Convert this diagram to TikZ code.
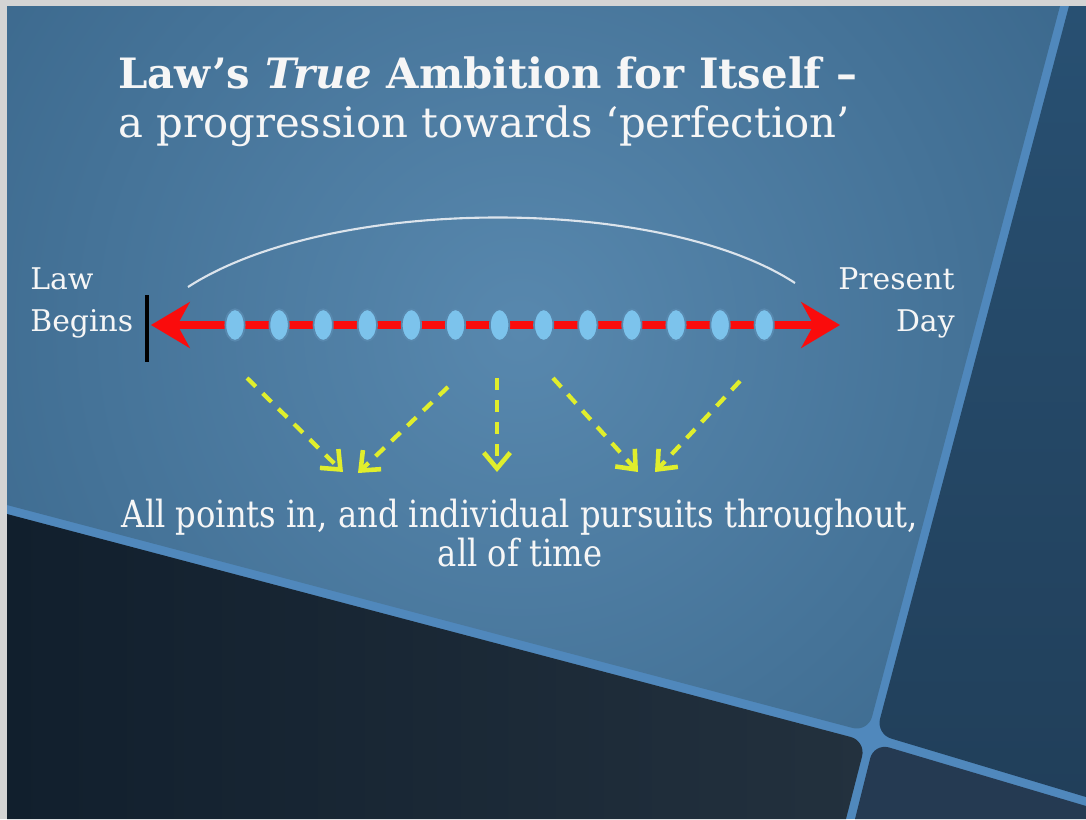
\documentclass[tikz,border=0pt]{standalone}
\usepackage{fontspec}
\setmainfont{DejaVu Serif}
\newfontfamily\condserif[FakeStretch=0.86]{DejaVu Serif}
\usetikzlibrary{arrows.meta,positioning,shapes.geometric}
\definecolor{slideframe}{RGB}{212,212,212}
\definecolor{seamblue}{RGB}{80,136,188}
\definecolor{paneedge}{RGB}{31,73,108}
\definecolor{panecentre}{RGB}{88,136,174}
\definecolor{darkpaneleft}{RGB}{17,31,45}
\definecolor{darkpaneright}{RGB}{35,49,62}
\definecolor{sidepanetop}{RGB}{40,80,114}
\definecolor{sidepanebottom}{RGB}{33,63,90}
\definecolor{cornerpane}{RGB}{37,58,82}
\definecolor{timered}{RGB}{250,12,12}
\definecolor{momentblue}{RGB}{124,195,236}
\definecolor{pursuityellow}{RGB}{224,238,44}
\definecolor{slidetext}{RGB}{246,246,246}
\definecolor{arcwhite}{RGB}{220,228,236}

\tikzset{
  titleline/.style={anchor=base west, inner sep=0pt, text=slidetext,
                    font=\fontsize{23.8}{28}\selectfont},
  endlabel/.style={inner sep=0pt, text=slidetext, font=\fontsize{17}{24}\selectfont},
  moment/.style={ellipse, fill=momentblue, draw=panecentre, line width=1pt,
                 minimum width=11pt, minimum height=18pt, inner sep=0pt},
  timeline/.style={draw=timered, line width=4.5pt,
                   {Stealth[length=22pt,width=26pt,inset=7pt]}-{Stealth[length=22pt,width=26pt,inset=7pt]}},
  pursuit/.style={draw=pursuityellow, line width=2.4pt, dash pattern=on 7pt off 5.5pt,
                  -{Straight Barb[length=9pt,width=15pt,line width=2.6pt]}},
}

\begin{document}
\begin{tikzpicture}[x=0.02cm, y=-0.02cm]
  \useasboundingbox (0,0) rectangle (1086,819);
  % slide background
  \fill[slideframe] (0,0) rectangle (1086,819);
  \fill[seamblue] (7,6) rectangle (1086,819);
  \begin{scope}
    \clip (7,6) -- (1060,6) [rounded corners=9pt] -- (868,732) [sharp corners] -- (7,505) -- cycle;
    \shade[inner color=panecentre, outer color=paneedge] (520,330) circle (26cm);
  \end{scope}
  \shade[left color=darkpaneleft, right color=darkpaneright]
    (7,514) [rounded corners=9pt] -- (866,741) [sharp corners] -- (846,819) -- (7,819) -- cycle;
  \shade[top color=sidepanetop, bottom color=sidepanebottom]
    (1069,6) -- (1086,6) -- (1086,797) [rounded corners=9pt] -- (876,734) [sharp corners] -- cycle;
  \fill[cornerpane]
    (855,819) [rounded corners=9pt] -- (874,743) [sharp corners] -- (1086,806) -- (1086,819) -- cycle;

  % title
  \node[titleline] (title1) at (118,88) {\bfseries Law’s \textit{True} Ambition for Itself –};
  \node[titleline] (title2) at (118,137) {a progression towards ‘perfection’};

  % end labels
  \node[endlabel, anchor=north west, align=left] (begins) at (30,267) {Law\\Begins};
  \node[endlabel, anchor=north east, align=right] (present) at (955,267) {Present\\Day};

  % span of time
  \coordinate (arcstart) at (188,287);
  \coordinate (arcend) at (795,283);
  \draw[arcwhite, line width=1.2pt] (arcstart) .. controls (330,195) and (660,195) .. (arcend);

  \coordinate (bartop) at (147,295);
  \coordinate (barbottom) at (147,362);
  \draw[black, line width=1.8pt] (bartop) -- (barbottom);

  \coordinate (origin) at (151,325);
  \coordinate (today) at (840,325);
  \draw[timeline] (origin) -- (today);
  \foreach \i in {0,...,12}
    \node[moment] (moment\i) at (235+44.1*\i,325) {};

  % pursuits
  \foreach \i/\sx/\sy/\ex/\ey in {1/247/378/343/472, 2/448/387/358/473, 3/497/378/497/472,
                                  4/553/378/638/472, 5/740/381/655/472} {
    \coordinate (from\i) at (\sx,\sy);
    \coordinate (to\i) at (\ex,\ey);
    \draw[pursuit] (from\i) -- (to\i);
  }

  \node[inner sep=0pt, anchor=north, align=center, text=slidetext,
        font=\condserif\fontsize{21.3}{22}\selectfont] (alltime) at (520,499)
    {All points in, and individual pursuits throughout,\\all of time};
\end{tikzpicture}
\end{document}
